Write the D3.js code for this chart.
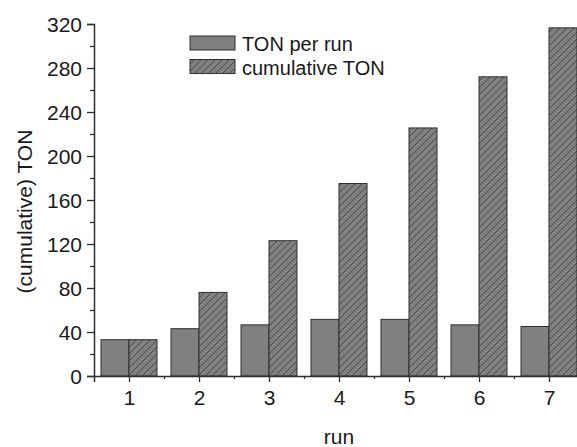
<!DOCTYPE html>
<html>
<head>
<meta charset="utf-8">
<script src="https://cdn.jsdelivr.net/npm/d3@7/dist/d3.min.js"></script>
<style>
  html, body { margin: 0; padding: 0; background: #fff; }
  svg { display: block; font-family: "Liberation Sans", Arial, sans-serif; }
</style>
</head>
<body>
<svg id="chart" width="577" height="447"></svg>
<script>
const runs = [1, 2, 3, 4, 5, 6, 7];
const tonPerRun = [33, 43, 46.5, 51.5, 51.5, 46.5, 45];
const cumulativeTon = [33, 76, 123, 175, 225.5, 272, 316.5];
const yTicks = [0, 40, 80, 120, 160, 200, 240, 280, 320];
const yMinorTicks = [20, 60, 100, 140, 180, 220, 260, 300];
const xMinorTicks = [1.5, 2.5, 3.5, 4.5, 5.5, 6.5, 7.5];
const seriesNames = ["TON per run", "cumulative TON"];

const svg = d3.select("#chart");
const x = d3.scaleLinear().domain([0.5, 7.5]).range([94, 584]);
const y = d3.scaleLinear().domain([0, 320]).range([376, 24]);
const barW = x(1.4) - x(1);

const defs = svg.append("defs");
const pat = defs.append("pattern")
  .attr("id", "hatch").attr("patternUnits", "userSpaceOnUse")
  .attr("width", 7).attr("height", 7);
pat.append("rect").attr("width", 7).attr("height", 7).attr("fill", "#808080");
pat.append("path").attr("d", "M-1,1 l2,-2 M0,7 l7,-7 M6,8 l2,-2")
  .attr("stroke", "#3a3a3a").attr("stroke-width", 0.8);

const stroke = "#2e2e2e";
const txt = "#1a1a1a";

// bars
svg.append("g").selectAll("rect").data(runs).join("rect")
  .attr("x", (d) => x(d) - barW).attr("width", barW)
  .attr("y", (d, i) => y(tonPerRun[i])).attr("height", (d, i) => y(0) - y(tonPerRun[i]))
  .attr("fill", "#808080").attr("stroke", stroke).attr("stroke-width", 1);
svg.append("g").selectAll("rect").data(runs).join("rect")
  .attr("x", (d) => x(d)).attr("width", barW)
  .attr("y", (d, i) => y(cumulativeTon[i])).attr("height", (d, i) => y(0) - y(cumulativeTon[i]))
  .attr("fill", "url(#hatch)").attr("stroke", stroke).attr("stroke-width", 1);

// axes
const tickFont = "21px";
const yAxis = svg.append("g").attr("transform", `translate(${x(0.5)},0)`)
  .call(d3.axisLeft(y).tickValues(yTicks).tickSize(7).tickPadding(5).tickFormat(d3.format("d")));
svg.append("g").attr("transform", `translate(${x(0.5)},0)`)
  .call(d3.axisLeft(y).tickValues(yMinorTicks).tickSize(4).tickFormat(""))
  .call(g => g.select(".domain").remove());
const xAxis = svg.append("g").attr("transform", `translate(0,${y(0)})`)
  .call(d3.axisBottom(x).tickValues(runs).tickSize(6).tickPadding(8).tickFormat(d3.format("d")));
svg.append("g").attr("transform", `translate(0,${y(0)})`)
  .call(d3.axisBottom(x).tickValues(xMinorTicks).tickSize(3).tickFormat(""))
  .call(g => g.select(".domain").remove());

svg.selectAll(".domain").attr("stroke", stroke).attr("stroke-width", 1.5);
svg.selectAll(".tick line").attr("stroke", stroke).attr("stroke-width", 1.3);
svg.selectAll(".tick text").attr("font-size", tickFont).attr("fill", txt)
  .attr("font-family", "Liberation Sans, Arial, sans-serif");
yAxis.selectAll(".tick text").attr("dy", "0.36em");

// axis labels
svg.append("text").attr("x", x(4)).attr("y", 444).attr("text-anchor", "middle")
  .attr("font-size", "21px").attr("fill", txt).text("run");
svg.append("text").attr("transform", `translate(32,${y(149.5)}) rotate(-90)`)
  .attr("text-anchor", "middle").attr("font-size", "21px").attr("fill", txt)
  .text("(cumulative) TON");

// legend
const legend = svg.append("g").attr("transform", "translate(190,36)");
const fills = ["#808080", "url(#hatch)"];
seriesNames.forEach((name, i) => {
  legend.append("rect").attr("x", 0).attr("y", i * 23.5).attr("width", 45).attr("height", 14)
    .attr("fill", fills[i]).attr("stroke", stroke).attr("stroke-width", 1);
  legend.append("text").attr("x", 52).attr("y", i * 23.5 + 15)
    .attr("font-size", "20px").attr("fill", txt).text(name);
});
</script>
</body>
</html>
